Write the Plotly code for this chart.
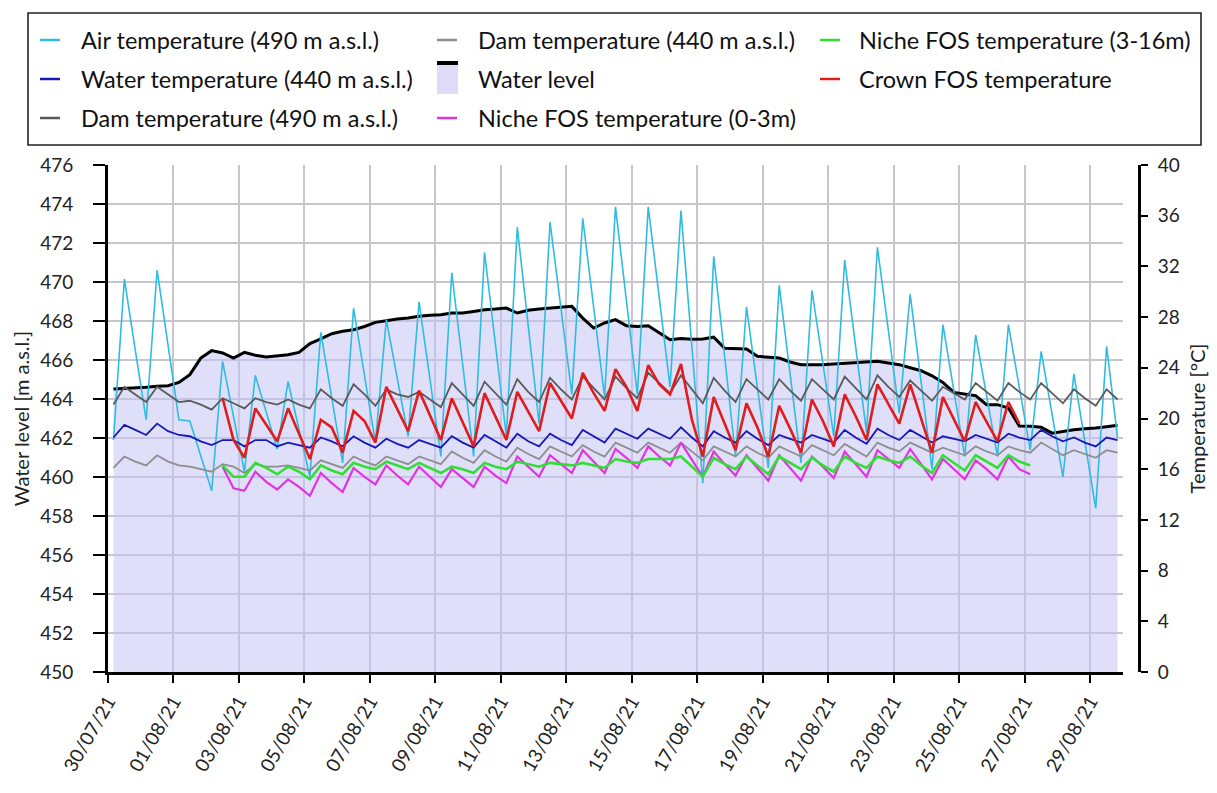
import plotly.graph_objects as go
import pandas as pd

# ---------------- data (sampled every 8 h: 04:00, 12:00, 20:00) ----------------
times = pd.date_range("2021-07-30 04:00", periods=93, freq="8h")

air_temp = [
    18.3, 31.0, 25.4, 19.9, 31.7, 25.8, 19.9, 19.8, 17.0, 14.3, 24.5, 20.1,
    15.8, 23.4, 20.5, 17.6, 22.9, 19.2, 15.4, 26.8, 21.6, 16.5, 28.7, 23.4,
    18.1, 27.8, 23.2, 18.6, 29.2, 23.1, 17.0, 31.5, 24.2, 17.0, 33.1, 25.8,
    18.6, 35.1, 27.3, 19.6, 35.5, 28.7, 21.9, 35.8, 28.8, 21.7, 36.7, 29.3,
    21.9, 36.7, 29.6, 22.5, 36.4, 25.6, 14.9, 32.8, 24.9, 17.0, 28.8, 22.4,
    16.1, 30.5, 23.5, 16.5, 30.1, 24.3, 18.6, 32.5, 25.7, 18.9, 33.5, 26.9,
    20.4, 29.8, 22.9, 16.0, 27.4, 22.2, 17.0, 26.6, 21.8, 17.0, 27.4, 22.4,
    17.5, 25.3, 20.3, 15.4, 23.5, 18.2, 12.9, 25.7, 18.5,
]

water_temp = [
    18.5, 19.5, 19.1, 18.7, 19.6, 19.0, 18.7, 18.6, 18.2, 17.9, 18.3, 18.3,
    17.8, 18.3, 18.3, 17.8, 18.1, 17.9, 17.7, 18.5, 18.2, 17.8, 18.6, 18.1,
    17.7, 18.4, 18.0, 17.7, 18.3, 18.0, 17.7, 18.6, 18.1, 17.7, 18.7, 18.2,
    17.7, 18.8, 18.2, 17.8, 18.8, 18.3, 17.9, 19.1, 18.6, 18.1, 19.2, 18.8,
    18.4, 19.2, 18.8, 18.4, 19.3, 18.5, 17.8, 19.0, 18.5, 18.1, 19.0, 18.4,
    17.9, 18.7, 18.4, 18.1, 18.7, 18.4, 18.1, 19.1, 18.5, 18.0, 19.2, 18.7,
    18.3, 19.1, 18.6, 18.1, 18.6, 18.4, 18.2, 18.7, 18.4, 18.1, 18.8, 18.5,
    18.3, 19.1, 18.6, 18.2, 18.5, 18.1, 17.8, 18.5, 18.3,
]

dam_temp_490 = [
    21.1, 22.5, 21.9, 21.3, 22.5, 21.9, 21.3, 21.4, 21.1, 20.7, 21.6, 21.2,
    20.8, 21.6, 21.3, 21.1, 21.5, 21.1, 20.8, 22.3, 21.6, 21.0, 22.7, 21.9,
    21.0, 22.3, 21.9, 21.7, 22.1, 21.5, 20.9, 22.8, 21.9, 21.0, 22.9, 22.0,
    21.1, 23.1, 22.1, 21.3, 23.2, 22.3, 21.5, 23.3, 22.4, 21.5, 23.3, 22.4,
    21.6, 23.6, 22.8, 22.0, 23.4, 22.3, 21.2, 23.2, 22.2, 21.3, 23.1, 22.3,
    21.5, 23.1, 22.2, 21.4, 23.1, 22.3, 21.5, 23.3, 22.4, 21.5, 23.4, 22.5,
    21.7, 23.0, 22.2, 21.4, 22.5, 22.0, 21.5, 22.8, 22.1, 21.4, 22.8, 22.1,
    21.5, 22.8, 22.0, 21.2, 22.3, 21.6, 21.0, 22.3, 21.5,
]

dam_temp_440 = [
    16.1, 17.0, 16.6, 16.3, 17.1, 16.6, 16.3, 16.2, 16.0, 15.8, 16.4, 16.2,
    15.7, 16.4, 16.2, 16.2, 16.3, 16.1, 15.9, 16.7, 16.4, 16.1, 17.0, 16.6,
    16.3, 17.0, 16.7, 16.4, 17.0, 16.7, 16.4, 17.4, 16.9, 16.5, 17.5, 17.0,
    16.6, 17.7, 17.2, 16.8, 17.8, 17.4, 17.0, 17.9, 17.4, 17.0, 18.1, 17.7,
    17.3, 18.1, 17.7, 17.3, 18.1, 17.4, 16.7, 17.8, 17.4, 17.0, 17.8, 17.3,
    16.9, 17.8, 17.4, 17.0, 17.9, 17.5, 17.1, 18.0, 17.5, 17.0, 18.1, 17.7,
    17.4, 18.1, 17.7, 17.3, 17.7, 17.4, 17.1, 17.8, 17.4, 17.1, 17.8, 17.5,
    17.3, 18.1, 17.6, 17.1, 17.5, 17.2, 16.9, 17.5, 17.3,
]

water_level = [
    464.51, 464.53, 464.56, 464.60, 464.65, 464.68, 464.85, 465.25, 466.10,
    466.48, 466.36, 466.10, 466.39, 466.24, 466.15, 466.22, 466.27, 466.39,
    466.84, 467.08, 467.35, 467.47, 467.55, 467.72, 467.93, 468.01, 468.10,
    468.15, 468.24, 468.29, 468.32, 468.41, 468.41, 468.49, 468.58, 468.61,
    468.66, 468.41, 468.55, 468.61, 468.66, 468.70, 468.75, 468.15, 467.64,
    467.90, 468.07, 467.76, 467.72, 467.76, 467.40, 467.04, 467.10, 467.06,
    467.08, 467.17, 466.60, 466.57, 466.56, 466.19, 466.15, 466.10, 465.90,
    465.76, 465.76, 465.76, 465.80, 465.84, 465.86, 465.90, 465.93, 465.85,
    465.76, 465.60, 465.45, 465.19, 464.85, 464.34, 464.25, 464.17, 463.71,
    463.71, 463.54, 462.62, 462.60, 462.55, 462.25, 462.34, 462.42, 462.48,
    462.51, 462.58, 462.65,
]

# FOS series start at 02/08/21 12:00 (index 10)
fos_start = 10
crown_fos = [
    21.6, 18.3,
    16.9, 20.8, 19.5, 18.2, 20.8, 18.8, 16.8, 19.9, 19.3, 17.3, 20.6, 19.8,
    18.1, 22.5, 20.7, 19.0, 22.2, 20.2, 18.3, 21.6, 19.7, 17.8, 22.0, 20.1,
    18.3, 22.1, 20.6, 19.0, 22.8, 21.4, 20.0, 23.6, 22.0, 20.6, 23.9, 22.5,
    20.6, 24.2, 22.7, 21.9, 24.3, 19.9, 17.0, 21.7, 19.6, 17.5, 21.2, 19.3,
    17.0, 21.0, 19.2, 17.3, 21.5, 19.8, 17.8, 21.9, 20.2, 18.3, 22.7, 21.1,
    19.6, 22.7, 20.0, 17.3, 21.7, 19.9, 18.2, 21.3, 19.7, 18.2, 21.3, 19.6,
]

niche_fos_3_16 = [
    16.3, 15.4,
    15.4, 16.5, 16.1, 15.6, 16.2, 15.8, 15.2, 16.3, 15.9, 15.6, 16.5, 16.2,
    16.0, 16.6, 16.3, 16.0, 16.5, 16.1, 15.7, 16.2, 16.0, 15.7, 16.5, 16.2,
    16.0, 16.6, 16.4, 16.2, 16.5, 16.4, 16.3, 16.5, 16.3, 16.1, 16.8, 16.6,
    16.5, 16.8, 16.8, 16.8, 17.0, 16.2, 15.4, 16.9, 16.4, 16.0, 17.0, 16.3,
    15.6, 17.0, 16.5, 16.0, 16.9, 16.3, 15.8, 17.0, 16.5, 16.1, 17.0, 16.7,
    16.5, 17.0, 16.3, 15.7, 17.1, 16.5, 15.9, 17.1, 16.6, 16.1, 17.1, 16.6,
    16.3,
]

niche_fos_0_3 = [
    16.2, 14.5,
    14.3, 15.8, 15.0, 14.4, 15.2, 14.6, 13.9, 15.7, 14.9, 14.2, 16.1, 15.4,
    14.8, 16.3, 15.5, 14.8, 16.2, 15.4, 14.6, 16.0, 15.3, 14.6, 16.2, 15.5,
    14.9, 17.0, 16.2, 15.4, 17.1, 16.4, 15.7, 17.5, 16.6, 15.7, 17.6, 16.9,
    16.1, 17.8, 17.0, 16.3, 18.1, 16.7, 15.4, 17.4, 16.4, 15.5, 17.1, 16.1,
    15.1, 17.1, 16.1, 15.1, 17.0, 16.2, 15.3, 17.4, 16.4, 15.4, 17.5, 16.8,
    16.1, 17.6, 16.4, 15.2, 16.8, 16.0, 15.2, 16.7, 16.0, 15.2, 17.0, 16.0,
    15.6,
]

tick_dates = ["2021-07-30", "2021-08-01", "2021-08-03", "2021-08-05", "2021-08-07",
              "2021-08-09", "2021-08-11", "2021-08-13", "2021-08-15", "2021-08-17",
              "2021-08-19", "2021-08-21", "2021-08-23", "2021-08-25", "2021-08-27",
              "2021-08-29"]

# ---------------- styles ----------------
FONT = "Lato"
C_AIR = "#2FBCE0"
C_WATER = "#1818B8"
C_DAM490 = "#5A5A5A"
C_DAM440 = "#8E8E8E"
C_NICHE03 = "#E233E2"
C_NICHE316 = "#33DD33"
C_CROWN = "#E01C1C"
C_FILL = "rgba(196,196,246,0.55)"

W, H = 1217, 793
ML, MR, MT, MB = 108, 78, 165, 121
PW, PH = W - ML - MR, H - MT - MB


def px(x):
    return (x - ML) / PW


def py(y):
    return (H - MB - y) / PH


fig = go.Figure()

fig.add_trace(go.Scatter(x=times, y=water_level, name="Water level", mode="lines",
                         line=dict(color="black", width=3), fill="tozeroy",
                         fillcolor=C_FILL, yaxis="y", showlegend=False))

fos_t = times[fos_start:]
series_t = [
    ("Air temperature (490 m a.s.l.)", times, air_temp, C_AIR, 1.6),
    ("Dam temperature (490 m a.s.l.)", times, dam_temp_490, C_DAM490, 1.8),
    ("Dam temperature (440 m a.s.l.)", times, dam_temp_440, C_DAM440, 1.8),
    ("Water temperature (440 m a.s.l.)", times, water_temp, C_WATER, 1.8),
    ("Niche FOS temperature (0-3m)", fos_t[:len(niche_fos_0_3)], niche_fos_0_3, C_NICHE03, 2.2),
    ("Niche FOS temperature (3-16m)", fos_t[:len(niche_fos_3_16)], niche_fos_3_16, C_NICHE316, 2.6),
    ("Crown FOS temperature", fos_t[:len(crown_fos)], crown_fos, C_CROWN, 2.6),
]
for name, xs, ys, col, lw in series_t:
    fig.add_trace(go.Scatter(x=xs, y=ys, name=name, mode="lines",
                             line=dict(color=col, width=lw), yaxis="y2",
                             showlegend=False))

# ---------------- manual legend box ----------------
shapes = [dict(type="rect", xref="paper", yref="paper",
               x0=px(28), x1=px(1201), y0=py(145), y1=py(13),
               line=dict(color="#222222", width=1.6), fillcolor="white", layer="above")]
annotations = []
rows = [40, 79, 118]
legend_items = [
    # (dash x0, text x, row, label, color, kind)
    (40, 79, 0, "Air temperature (490 m a.s.l.)", C_AIR, "line"),
    (40, 79, 1, "Water temperature (440 m a.s.l.)", C_WATER, "line"),
    (40, 79, 2, "Dam temperature (490 m a.s.l.)", C_DAM490, "line"),
    (437, 476, 0, "Dam temperature (440 m a.s.l.)", C_DAM440, "line"),
    (437, 476, 1, "Water level", "black", "area"),
    (437, 476, 2, "Niche FOS temperature (0-3m)", C_NICHE03, "line"),
    (820, 857, 0, "Niche FOS temperature (3-16m)", C_NICHE316, "line"),
    (820, 857, 1, "Crown FOS temperature", C_CROWN, "line"),
]
for x0, xt, r, label, col, kind in legend_items:
    yc = rows[r]
    if kind == "line":
        shapes.append(dict(type="line", xref="paper", yref="paper",
                           x0=px(x0), x1=px(x0 + 20), y0=py(yc), y1=py(yc),
                           line=dict(color=col, width=2.5)))
    else:
        shapes.append(dict(type="rect", xref="paper", yref="paper",
                           x0=px(x0), x1=px(x0 + 21), y0=py(yc + 15), y1=py(yc - 15),
                           line=dict(width=0), fillcolor="#DCDCF8"))
        shapes.append(dict(type="line", xref="paper", yref="paper",
                           x0=px(x0), x1=px(x0 + 21), y0=py(yc - 16), y1=py(yc - 16),
                           line=dict(color="black", width=4)))
    annotations.append(dict(xref="paper", yref="paper", x=px(xt), y=py(yc),
                            xanchor="left", yanchor="middle", showarrow=False,
                            text=label, font=dict(family=FONT, size=23.5, color="#111111")))

axis_common = dict(showline=True, linecolor="black", linewidth=3, ticks="outside",
                   tickcolor="black", tickwidth=2, zeroline=False,
                   tickfont=dict(family=FONT, size=19, color="#222222"))

fig.update_layout(
    width=W, height=H,
    margin=dict(l=ML, r=MR, t=MT, b=MB, pad=0),
    paper_bgcolor="white", plot_bgcolor="white",
    showlegend=False,
    font=dict(family=FONT, color="#222222"),
    xaxis=dict(domain=[0, (1123 - ML) / PW], type="date",
               range=["2021-07-30 00:00", "2021-08-30 00:00"],
               tickvals=tick_dates, tickformat="%d/%m/%y", tickangle=-60,
               ticklen=8, showgrid=True, gridcolor="#C6C6CC", gridwidth=1.5,
               **axis_common),
    yaxis=dict(range=[450, 476], dtick=2, ticklen=12, showgrid=True,
               gridcolor="#C6C6CC", gridwidth=1.5, ticklabelstandoff=16,
               title=dict(text="Water level [m a.s.l.]",
                          font=dict(family=FONT, size=20, color="#222222"), standoff=6),
               **axis_common),
    yaxis2=dict(range=[0, 40], dtick=4, ticklen=7, overlaying="y", side="right",
                anchor="free", position=1, showgrid=False, ticklabelstandoff=6,
                title=dict(text="Temperature [°C]",
                           font=dict(family=FONT, size=20, color="#222222"), standoff=12),
                **axis_common),
    shapes=shapes,
    annotations=annotations,
)

fig.write_html("out.html")
